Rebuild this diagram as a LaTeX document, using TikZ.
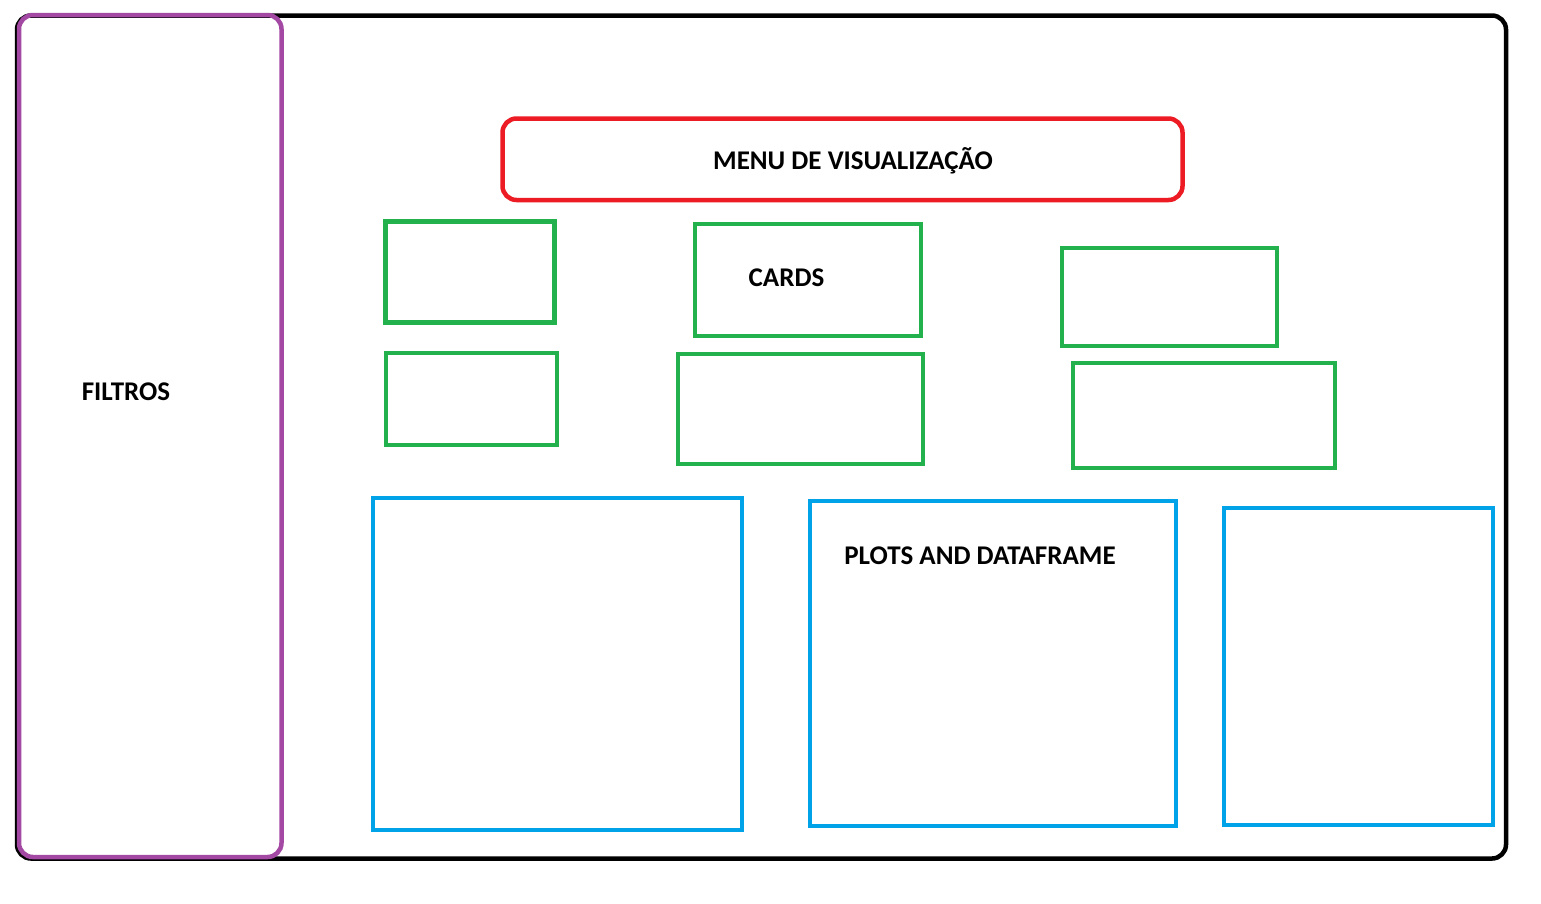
\documentclass[tikz,border=0pt]{standalone}
\usepackage{fontspec}
\setmainfont{Carlito}
\definecolor{ppurple}{HTML}{A349A4}
\definecolor{pred}{HTML}{ED1C24}
\definecolor{pgreen}{HTML}{22B14C}
\definecolor{pblue}{HTML}{00A2E8}
\tikzset{
  base/.style={draw, line width=4.5pt, inner sep=0pt, outer sep=0pt, anchor=north west},
  outerbox/.style={base, draw=black, rounded corners=14pt},
  filterbox/.style={base, draw=ppurple, rounded corners=14pt},
  menubox/.style={base, draw=pred, rounded corners=14pt},
  cardbox/.style={base, draw=pgreen},
  plotbox/.style={base, draw=pblue},
  lbl/.style={font=\bfseries\fontsize{27}{30}\selectfont, inner sep=0pt, anchor=base}
}
\begin{document}
\begin{tikzpicture}[x=1pt,y=-1pt]
\useasboundingbox[fill=white] (0,0) rectangle (1541,903);
\node (outer) [outerbox, minimum width=1489pt, minimum height=843pt] at (17,15.5) {};
\node (filtros) [filterbox, minimum width=262.5pt, minimum height=842pt] at (19,15) {};
\node (menu) [menubox, minimum width=680pt, minimum height=81.5pt] at (502.5,118.5) {};
\node (c1) [cardbox, minimum width=169pt, minimum height=101pt] at (385.5,221.5) {};
\node (c2) [cardbox, minimum width=226pt, minimum height=112pt] at (695,224) {};
\node (c3) [cardbox, minimum width=215pt, minimum height=98pt] at (1062,248) {};
\node (c4) [cardbox, minimum width=171pt, minimum height=92pt] at (386,353) {};
\node (c5) [cardbox, minimum width=245pt, minimum height=110pt] at (678,354) {};
\node (c6) [cardbox, minimum width=262pt, minimum height=105pt] at (1073,363) {};
\node (p1) [plotbox, minimum width=369pt, minimum height=332pt] at (373,498) {};
\node (p2) [plotbox, minimum width=366pt, minimum height=325pt] at (810,501) {};
\node (p3) [plotbox, minimum width=269pt, minimum height=317pt] at (1224,508) {};
\node (tfil) [lbl] at (126,400.7) {FILTROS};
\node (tmenu) [lbl] at (853,169.3) {MENU DE VISUALIZAÇÃO};
\node (tcards) [lbl] at (786.5,286.7) {CARDS};
\node (tplots) [lbl] at (980,564.3) {PLOTS AND DATAFRAME};
\end{tikzpicture}
\end{document}
